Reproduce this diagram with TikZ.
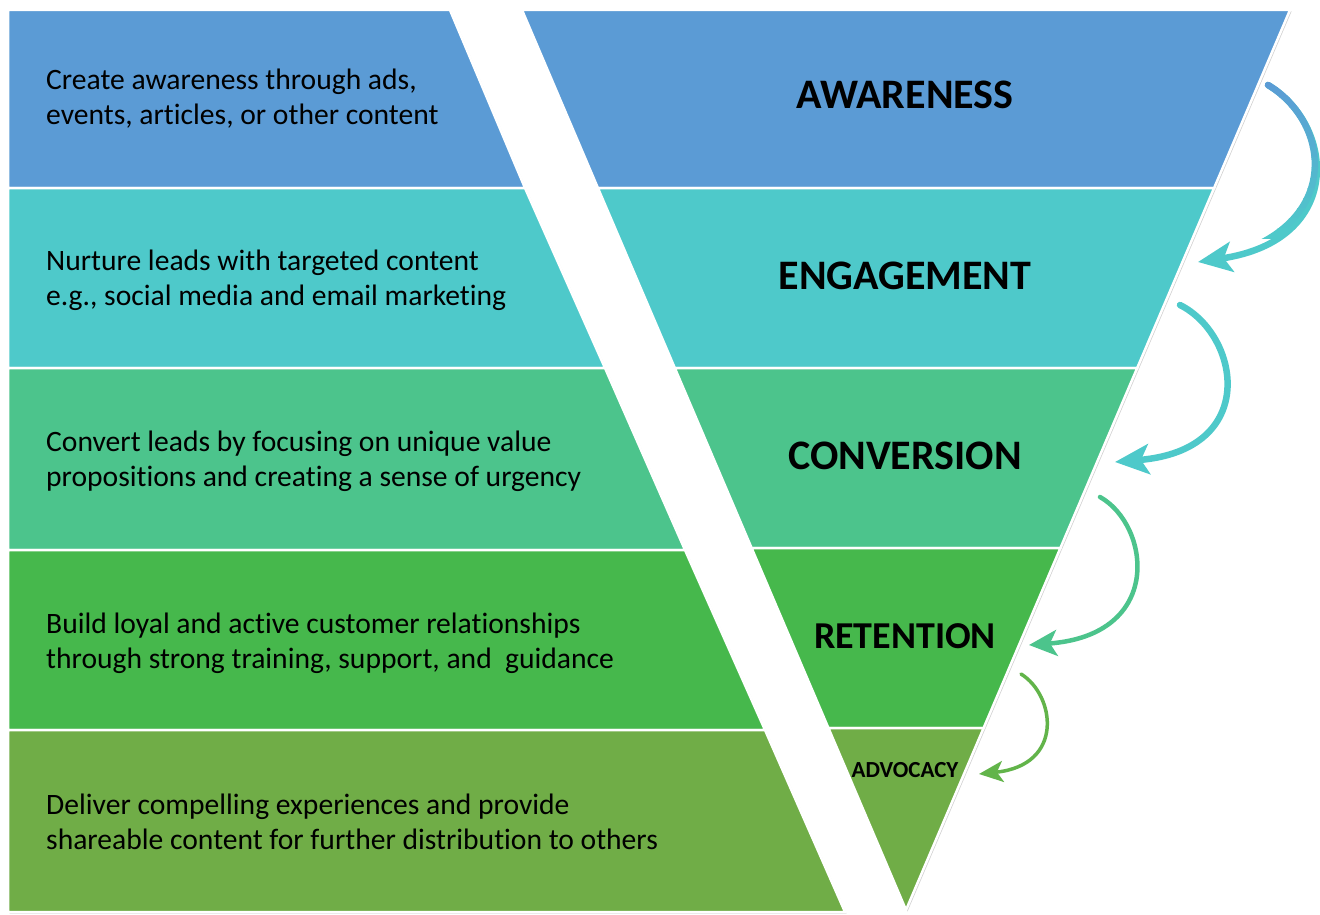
\documentclass[tikz,border=0pt]{standalone}
\usepackage{fontspec}
\setmainfont[Ligatures={NoCommon}]{Carlito}
\usetikzlibrary{arrows.meta,shadows}
\definecolor{cAw}{HTML}{5B9BD5}
\definecolor{cEn}{HTML}{4EC9CA}
\definecolor{cCo}{HTML}{4CC48C}
\definecolor{cRe}{HTML}{46B84C}
\definecolor{cAd}{HTML}{70AD47}
\definecolor{cAr3}{HTML}{4CC48C}
\definecolor{cAr4}{HTML}{62B44A}
\begin{document}
\begin{tikzpicture}[x=1pt,y=-1pt,
  band/.style={draw=white,line width=2.5pt,line join=miter,
    drop shadow={shadow xshift=1.5pt,shadow yshift=-1.5pt,opacity=0.3,fill=black!60}},
  desc/.style={anchor=west,align=left,font=\fontsize{29.6}{35}\selectfont,text=black,inner sep=0pt},
  stage/.style={anchor=center,font=\bfseries\fontsize{42}{44}\selectfont,text=black,inner sep=0pt},
  curv/.style={line width=6.5pt,line cap=round,-{Stealth[length=34pt,width=30pt,inset=8pt]}}]
\useasboundingbox (0,0) rectangle (1320,915);
\fill[white] (0,0) rectangle (1320,915);
% left bands
\fill[band,fill=cAw] (8,10) -- (450,10) -- (525,188) -- (8,188) -- cycle;
\fill[band,fill=cEn] (8,188) -- (525,188) -- (605,368) -- (8,368) -- cycle;
\fill[band,fill=cCo] (8,368) -- (605,368) -- (685,550) -- (8,550) -- cycle;
\fill[band,fill=cRe] (8,550) -- (685,550) -- (765,730) -- (8,730) -- cycle;
\fill[band,fill=cAd] (8,730) -- (765,730) -- (845,912) -- (8,912) -- cycle;
% funnel bands
\fill[band,fill=cAw] (522,10) -- (1290,10) -- (1214.1,188) -- (597.9,188) -- cycle;
\fill[band,fill=cEn] (597.9,188) -- (1214.1,188) -- (1137.2,368) -- (674.8,368) -- cycle;
\fill[band,fill=cCo] (674.8,368) -- (1137.2,368) -- (1060.4,548) -- (751.6,548) -- cycle;
\fill[band,fill=cRe] (751.6,548) -- (1060.4,548) -- (983.6,728) -- (828.4,728) -- cycle;
\fill[band,fill=cAd] (828.4,728) -- (983.6,728) -- (906,910) -- cycle;
% texts
\node[desc] (t1) at (46,99) {Create awareness through ads,\\events, articles, or other content};
\node[desc] (t2) at (46,280) {Nurture leads with targeted content\\e.g., social media and email marketing};
\node[desc] (t3) at (46,461) {Convert leads by focusing on unique value\\propositions and creating a sense of urgency};
\node[desc] (t4) at (46,643) {Build loyal and active customer relationships\\through strong training, support, and\ \ guidance};
\node[desc] (t5) at (46,822) {Deliver compelling experiences and provide\\shareable content for further distribution to others};
\node[stage] (f1) at (905,95) {AWARENESS};
\node[stage] (f2) at (905,276) {ENGAGEMENT};
\node[stage] (f3) at (905,456) {CONVERSION};
\node[stage,font=\bfseries\fontsize{38}{40}\selectfont] (f4) at (905,636) {RETENTION};
\node[stage,font=\bfseries\fontsize{23}{25}\selectfont] (f5) at (905,770) {ADVOCACY};
% arrows
\coordinate (a1s) at (1268,85);  \coordinate (a1e) at (1198,262);
\coordinate (a2s) at (1180,305); \coordinate (a2e) at (1115,462);
\coordinate (a3s) at (1100,497); \coordinate (a3e) at (1029,645);
\coordinate (a4s) at (1021,674); \coordinate (a4e) at (979,774);
\draw[curv,cEn] (a1s) .. controls (1335,125) and (1345,240) .. (a1e);
\foreach \i in {0,...,15} {
  \pgfmathsetmacro\pct{100-\i*100/15}
  \begin{scope}
    \clip (1150,{78+\i*10}) rectangle (1340,{88+\i*10});
    \draw[line width=6.5pt,line cap=round,draw=cAw!\pct!cEn] (a1s) .. controls (1335,125) and (1345,240) .. (a1e);
  \end{scope}
}
\draw[curv,cEn] (a2s) .. controls (1240,335) and (1260,450) .. (a2e);
\draw[curv,cAr3,line width=4.5pt,-{Stealth[length=28pt,width=26pt,inset=7pt]}] (a3s) .. controls (1150,525) and (1165,635) .. (a3e);
\draw[curv,cAr4,line width=3.5pt,-{Stealth[length=24pt,width=21pt,inset=6pt]}] (a4s) .. controls (1055,695) and (1065,765) .. (a4e);
\end{tikzpicture}
\end{document}
